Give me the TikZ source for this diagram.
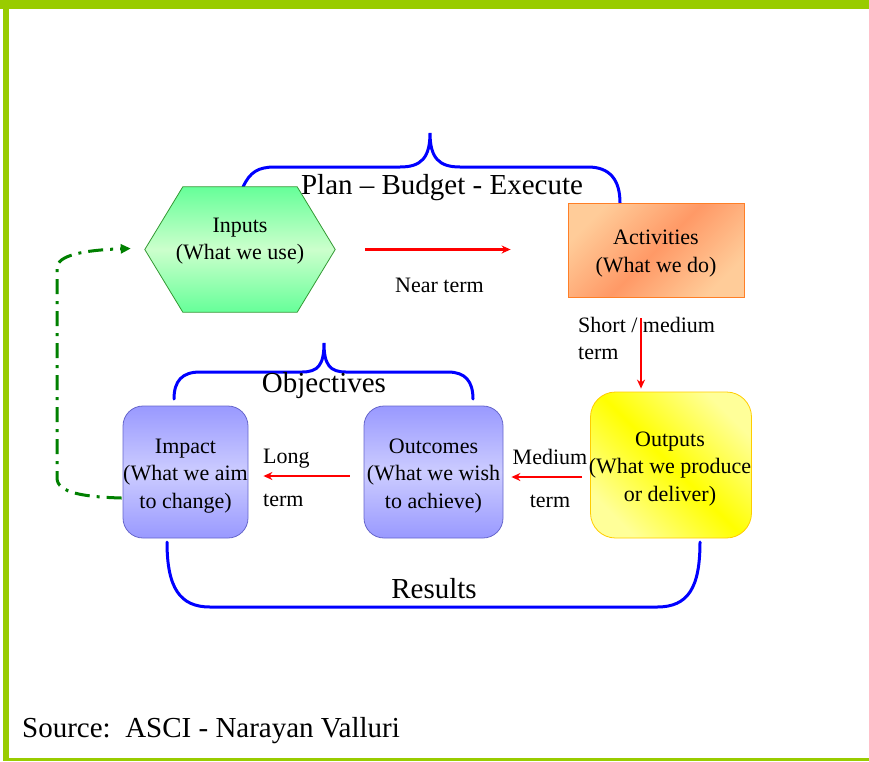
\documentclass[tikz,border=0pt]{standalone}
\usepackage{fontspec}
\setmainfont{Liberation Serif}
\usetikzlibrary{calc,arrows.meta}

\definecolor{framegreen}{HTML}{99CC00}
\definecolor{braceblue}{HTML}{0000FF}
\definecolor{loopgreen}{HTML}{008000}
\definecolor{hexline}{HTML}{339933}
\definecolor{hexgreen}{HTML}{66FF99}
\definecolor{hexpale}{HTML}{CCFFCC}
\definecolor{actline}{HTML}{FF7F27}
\definecolor{peach}{HTML}{FFCC99}
\definecolor{apricot}{HTML}{FF9966}
\definecolor{outline}{HTML}{FFCC00}
\definecolor{lemon}{HTML}{FFFF00}
\definecolor{palelemon}{HTML}{FFFF99}
\definecolor{slate}{HTML}{6666CC}
\definecolor{lav}{HTML}{9999FF}
\definecolor{palelav}{HTML}{CCCCFF}

\begin{document}
\begin{tikzpicture}[x=1pt,y=-1pt,
  boxtext/.style={font=\fontsize{22}{27.5}\selectfont, align=center, inner sep=0pt},
  termtext/.style={font=\fontsize{22}{27.5}\selectfont, inner sep=0pt},
  bigtext/.style={font=\fontsize{29}{34}\selectfont, inner sep=0pt},
  bracket/.style={draw=braceblue, line width=3pt, line cap=round},
  flow/.style={draw=red, line width=2.3pt, -{Stealth[length=9pt,width=8pt]}},
  feedback/.style={draw=loopgreen, line width=3pt,
    dash pattern=on 15pt off 7pt on 3pt off 7pt,
    -{Triangle[length=10pt,width=9pt]}},
  shape box/.style={inner sep=0pt, line width=0.8pt},
  objbox/.style={shape box, draw=slate, rounded corners=20pt,
    top color=lav, bottom color=lav, middle color=palelav, minimum height=132pt},
]
\useasboundingbox (0,0) rectangle (869,761);

% page frame
\fill[framegreen] (0,0) rectangle (869,8.5);
\fill[framegreen] (3,0) rectangle (9,761);
\fill[framegreen] (3,758) rectangle (869,761);

% braces and the results bracket
\draw[bracket] (243,187) .. controls (250,172) and (258,167) .. (275,167)
  -- (400,167) .. controls (421,167) and (430,158) .. (430,133)
  .. controls (430,158) and (439,167) .. (460,167)
  -- (588,167) .. controls (610,167) and (620,180) .. (620,203);
\draw[bracket] (174,399) .. controls (174,381) and (182,372) .. (200,372)
  -- (302,372) .. controls (318,372) and (324,365) .. (324,343)
  .. controls (324,365) and (330,372) .. (346,372)
  -- (448,372) .. controls (465,372) and (473,381) .. (473,399);
\draw[bracket] (167,542) .. controls (167,588) and (180,607) .. (210,607)
  -- (657,607) .. controls (688,607) and (700,588) .. (700,542);

% inputs hexagon
\node[minimum width=190pt, minimum height=125pt, inner sep=0pt] (inputs) at (240,249.5) {};
\path[draw=hexline, line width=0.8pt, top color=hexgreen, bottom color=hexgreen, middle color=hexpale]
  (inputs.west) -- ($(inputs.north west)+(38,0)$) -- ($(inputs.north east)+(-38,0)$)
  -- (inputs.east) -- ($(inputs.south east)+(-38,0)$) -- ($(inputs.south west)+(38,0)$) -- cycle;
\node[boxtext] (inputslabel) at (240,241) {Inputs\\(What we use)};

% activities, outputs, outcomes, impact
\node[shape box, draw=actline, minimum width=176pt, minimum height=94pt,
  top color=peach, bottom color=peach, middle color=apricot, shading angle=45]
  (act) at (656,250) {};
\node[boxtext] (actlabel) at (656,253.6) {Activities\\(What we do)};
\node[shape box, draw=outline, rounded corners=25pt,
  minimum width=161pt, minimum height=146pt,
  top color=palelemon, bottom color=palelemon, middle color=lemon, shading angle=-45]
  (out) at (671,465) {};
\node[boxtext] (outlabel) at (670,468.6) {Outputs\\(What we produce\\or deliver)};
\node[objbox, minimum width=139pt] (outcomes) at (433.5,472) {};
\node[boxtext] (outcomeslabel) at (433.5,476) {Outcomes\\(What we wish\\to achieve)};
\node[objbox, minimum width=125pt] (impact) at (185.5,472) {};
\node[boxtext] (impactlabel) at (185.5,476) {Impact\\(What we aim\\to change)};

% term labels
\node[termtext, anchor=base] (near) at (439.5,292) {Near term};
\node[termtext, align=left, anchor=north west] (short) at (578,316.7) {Short / medium\\term};
\node[termtext, align=center, anchor=north] (medium) at (550,449) {Medium\\[15.5pt]term};
\node[termtext, align=left, anchor=north west] (long) at (263,448.4) {Long\\[15.5pt]term};

% flow arrows
\draw[flow] ($(inputs.east)+(30,0)$) -- ($(act.west)+(-57,-0.5)$);
\draw[flow] ($(act.south)+(-15,21)$) -- ($(out.north)+(-30,-3)$);
\draw[flow] ($(out.west)+(-8,12)$) -- ($(outcomes.east)+(8,5)$);
\draw[flow] ($(outcomes.west)+(-14,4)$) -- ($(impact.east)+(15,4)$);

% feedback loop from impact back to inputs
\draw[feedback] ($(impact.west)+(-1,26)$) .. controls (85,497) and (57,493) .. (57,478)
  -- (57,268) .. controls (57,255) and (85,250) .. ($(inputs.west)+(-14,-1)$);

% headings
\node[bigtext, anchor=base] (plan) at (442,194) {Plan -- Budget - Execute};
\node[bigtext, anchor=base] (obj) at (324,392) {Objectives};
\node[bigtext, anchor=base] (res) at (434,598) {Results};
\node[bigtext, anchor=base west] (src) at (22,737) {Source:\ \ ASCI - Narayan Valluri};
\end{tikzpicture}
\end{document}
